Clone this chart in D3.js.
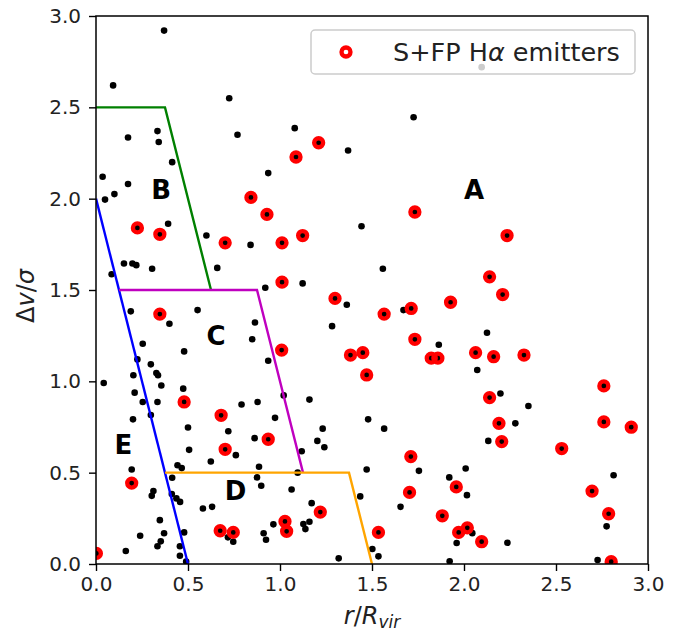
<!DOCTYPE html>
<html><head><meta charset="utf-8">
<script src="https://cdn.jsdelivr.net/npm/d3@7"></script>
<style>body{margin:0;background:#fff;} svg{display:block;font-family:"DejaVu Sans",sans-serif;}</style>
</head><body><svg id="c" width="687" height="633"></svg>
<script>
// ---- data ----
const xTickValues = [0, 0.5, 1.0, 1.5, 2.0, 2.5, 3.0];
const yTickValues = [0, 0.5, 1.0, 1.5, 2.0, 2.5, 3.0];

// cluster members (black dots), non-emitters
const galaxyX = [0.37,0.093,0.724,0.334,0.174,0.341,0.769,0.414,0.936,0.036,0.174,0.10,0.049,1.726,1.08,1.37,2.096,
  0.392,0.60,0.84,0.152,0.198,0.219,0.305,0.659,0.085,0.92,0.189,0.552,0.399,0.864,0.849,0.254,0.479,0.225,0.936,
  0.298,0.328,0.337,0.203,0.042,0.355,0.474,0.21,1.02,0.334,0.254,0.791,0.878,0.201,0.298,0.973,0.50,0.719,0.862,
  0.506,0.76,0.624,0.443,0.466,0.194,0.886,0.414,0.875,0.898,0.312,0.303,0.412,0.437,0.457,0.581,0.631,0.347,0.717,
  0.746,0.37,0.24,0.479,0.352,0.334,0.456,0.456,0.49,0.162,0.964,0.911,0.924,1.16,1.479,1.566,1.232,1.203,1.241,
  1.118,1.755,1.471,1.096,1.063,1.436,1.172,1.655,1.16,1.127,1.138,1.319,1.502,1.535,1.92,2.009,2.016,2.045,1.96,
  1.922,1.443,1.559,1.123,1.363,1.671,1.283,1.863,2.072,2.125,2.198,2.35,2.279,2.132,2.813,2.775,2.236,2.726];
const galaxyY = [2.92,2.62,2.55,2.37,2.335,2.31,2.35,2.20,2.14,2.12,2.08,2.025,1.995,2.446,2.386,2.264,2.72,
  1.863,1.798,1.747,1.645,1.645,1.636,1.616,1.621,1.586,1.512,1.383,1.39,1.315,1.322,1.23,1.206,1.164,1.12,1.113,
  1.093,1.045,1.033,1.033,0.991,0.977,0.96,0.938,0.923,0.887,0.887,0.873,0.887,0.792,0.816,0.80,0.747,0.727,0.689,
  0.625,0.596,0.561,0.541,0.525,0.517,0.532,0.472,0.474,0.428,0.40,0.373,0.383,0.359,0.34,0.304,0.313,0.24,0.146,
  0.122,0.168,0.155,0.173,0.124,0.097,0.097,0.045,0.013,0.071,0.217,0.168,0.133,0.90,0.792,0.741,0.741,0.674,0.639,
  0.617,0.51,0.517,0.50,0.408,0.37,0.333,0.313,0.231,0.219,0.191,0.031,0.082,0.042,0.474,0.523,0.377,0.169,0.115,
  0.015,1.849,1.616,1.536,1.419,1.39,1.302,1.20,1.062,1.266,0.933,0.865,0.77,0.674,0.486,0.206,0.116,0.022];

// S+FP Halpha emitters (red rings)
const emitterX = [0.842,0.929,0.225,0.347,0.702,1.011,1.011,0.347,1.009,0.479,0.68,0.936,0.702,0.194,0.675,0.746,
  0.002,1.027,1.036,1.21,1.087,1.733,1.123,1.299,1.566,1.713,1.927,1.733,2.063,1.383,1.45,1.822,1.858,1.471,1.711,
  1.704,1.219,1.535,1.958,1.882,1.971,2.018,2.096,2.234,2.139,2.21,2.161,2.326,2.76,2.139,2.19,2.76,2.909,2.205,
  2.531,2.696,2.786,2.8];
const emitterY = [2.007,1.914,1.84,1.805,1.758,1.758,1.543,1.368,1.171,0.887,0.814,0.683,0.628,0.443,0.182,0.173,
  0.058,0.233,0.179,2.306,2.228,1.927,1.798,1.454,1.368,1.399,1.433,1.23,1.157,1.144,1.157,1.127,1.127,1.035,0.588,
  0.392,0.284,0.173,0.422,0.264,0.173,0.198,0.122,1.798,1.572,1.475,1.135,1.144,0.975,0.911,0.77,0.778,0.749,0.67,
  0.632,0.399,0.275,0.013];

// region boundaries
const boundaryNames = ["B", "E", "C", "D"];
const boundaryX = [[0, 0.375, 0.625], [0, 0.5], [0.125, 0.875, 1.125], [0.375, 1.375, 1.5]];
const boundaryY = [[2.5, 2.5, 1.5], [2.0, 0.0], [1.5, 1.5, 0.5], [0.5, 0.5, 0.0]];
const boundaryColors = ["#008000", "#0000ff", "#bf00bf", "#ffa500"];

// region labels
const regionNames = ["A", "B", "C", "D", "E"];
const regionLabelX = [2.0, 0.3, 0.6, 0.7, 0.1];
const regionLabelY = [2.0, 2.0, 1.2, 0.35, 0.6];

// ---- layout ----
const L = 96, R = 648, T = 16, B = 564;
const svg = d3.select("#c");
const x = d3.scaleLinear().domain([0, 3]).range([L, R]);
const y = d3.scaleLinear().domain([0, 3]).range([B, T]);

svg.append("defs").append("clipPath").attr("id", "clip")
  .append("rect").attr("x", L).attr("y", T).attr("width", R - L).attr("height", B - T);

const plot = svg.append("g").attr("clip-path", "url(#clip)");

// black dots (all members, including emitters)
const allX = galaxyX.concat(emitterX), allY = galaxyY.concat(emitterY);
plot.append("g").selectAll("circle").data(d3.range(allX.length)).join("circle")
  .attr("cx", i => x(allX[i])).attr("cy", i => y(allY[i])).attr("r", 3.3).attr("fill", "#000");

// red rings
plot.append("g").selectAll("circle").data(d3.range(emitterX.length)).join("circle")
  .attr("cx", i => x(emitterX[i])).attr("cy", i => y(emitterY[i])).attr("r", 4.5)
  .attr("fill", "none").attr("stroke", "#ff0000").attr("stroke-width", 4.3);

// boundaries
const line = d3.line().x(d => x(d[0])).y(d => y(d[1]));
boundaryX.forEach((bx, k) => {
  plot.append("path").datum(bx.map((v, j) => [v, boundaryY[k][j]]))
    .attr("d", line).attr("fill", "none").attr("stroke", boundaryColors[k])
    .attr("stroke-width", 2.4).attr("stroke-linejoin", "miter");
});

// region labels
svg.append("g").selectAll("text").data(regionNames).join("text")
  .attr("x", (d, i) => x(regionLabelX[i])).attr("y", (d, i) => y(regionLabelY[i]))
  .attr("font-size", 26).attr("font-weight", "bold").attr("fill", "#000").text(d => d);

// axes
const fmt = d3.format(".1f");
const xAxis = svg.append("g").attr("transform", `translate(0,${B})`)
  .call(d3.axisBottom(x).tickValues(xTickValues).tickFormat(fmt).tickSize(7).tickPadding(6));
const yAxis = svg.append("g").attr("transform", `translate(${L},0)`)
  .call(d3.axisLeft(y).tickValues(yTickValues).tickFormat(fmt).tickSize(7).tickPadding(8));
[xAxis, yAxis].forEach(a => {
  a.select(".domain").remove();
  a.selectAll("line").attr("stroke", "#000").attr("stroke-width", 1.4);
  a.selectAll("text").attr("font-size", 20).attr("fill", "#222").attr("font-family", "DejaVu Sans");
});

// frame
svg.append("rect").attr("x", L).attr("y", T).attr("width", R - L).attr("height", B - T)
  .attr("fill", "none").attr("stroke", "#000").attr("stroke-width", 1.5);

// axis labels
const xl = svg.append("text").attr("x", (L + R) / 2).attr("y", 624).attr("text-anchor", "middle")
  .attr("font-size", 24).attr("fill", "#222");
xl.append("tspan").attr("font-style", "italic").text("r");
xl.append("tspan").text("/");
xl.append("tspan").attr("font-style", "italic").text("R");
xl.append("tspan").attr("font-style", "italic").attr("font-size", 17).attr("dy", 4).text("vir");

const yl = svg.append("text").attr("transform", `translate(34,296) rotate(-90)`).attr("text-anchor", "middle")
  .attr("font-size", 24).attr("fill", "#222");
yl.append("tspan").text("Δ");
yl.append("tspan").attr("font-style", "italic").text("v");
yl.append("tspan").text("/");
yl.append("tspan").attr("font-style", "italic").text("σ");

// legend
const lg = svg.append("g");
lg.append("rect").attr("x", 311).attr("y", 30).attr("width", 324).attr("height", 44).attr("rx", 4)
  .attr("fill", "#fff").attr("fill-opacity", 0.8).attr("stroke", "#cccccc").attr("stroke-width", 1.5);
lg.append("circle").attr("cx", 346).attr("cy", 52).attr("r", 4.5).attr("fill", "none")
  .attr("stroke", "#ff0000").attr("stroke-width", 4.3);
const lt = lg.append("text").attr("x", 393).attr("y", 61).attr("font-size", 25.5).attr("fill", "#222");
lt.append("tspan").text("S+FP H");
lt.append("tspan").attr("font-style", "italic").text("α");
lt.append("tspan").text(" emitters");
</script></body></html>
